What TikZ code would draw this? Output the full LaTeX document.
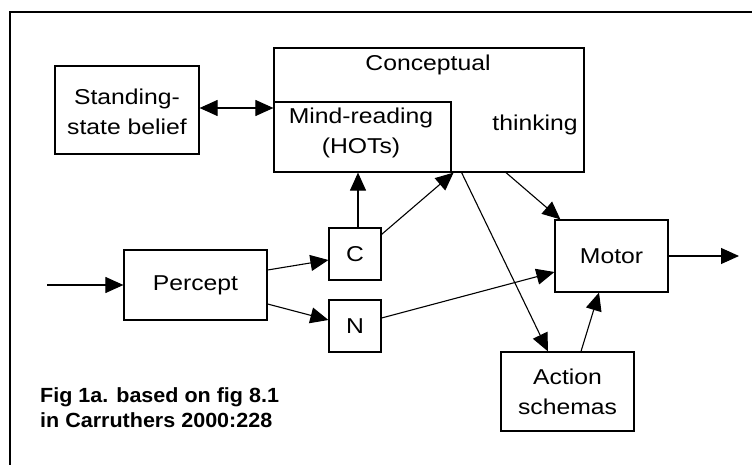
\documentclass[tikz,border=0pt]{standalone}
\usepackage{fontspec}
\setmainfont{Liberation Sans}[FakeStretch=1.15]
\newfontfamily\capfont{Liberation Sans}[FakeStretch=1.05]
\usetikzlibrary{arrows.meta,calc}
\begin{document}
\begin{tikzpicture}[x=1pt,y=-1pt,
  box/.style={draw,line width=1.2pt,inner sep=0pt,anchor=center},
  lbl/.style={inner sep=0pt,align=center,font=\fontsize{21.5}{30}\selectfont},
  conn/.style={line width=1.1pt,-{Triangle[length=18pt,width=16pt]}},
  every node/.style={font=\fontsize{21.5}{30}\selectfont}]
\useasboundingbox (0,0) rectangle (752,465);
\draw[line width=1.3pt] (10,465) -- (10,12) -- (752,12);
% boxes
\node[box,minimum width=144pt,minimum height=88pt] (sb) at (127,110) {};
\node[box,minimum width=310pt,minimum height=124pt] (concept) at (429,110) {};
\node[box,minimum width=177pt,minimum height=70pt] (mind) at (362.5,137) {};
\node[box,minimum width=52pt,minimum height=52pt] (C) at (355,254) {C};
\node[box,minimum width=52pt,minimum height=52pt] (N) at (355,326) {N};
\node[box,minimum width=143pt,minimum height=70pt] (percept) at (195.5,285) {Percept};
\node[box,minimum width=113pt,minimum height=72pt] (motor) at (611.5,256) {Motor};
\node[box,minimum width=133pt,minimum height=79pt] (action) at (567.5,391.5) {};
% texts
\node[lbl] (sbt) at (127,112) {Standing-\\state belief};
\node[lbl] (ct) at (428,65) {Conceptual};
\node[lbl] (tt) at (535,125) {thinking};
\node[lbl] (mt) at (361,133) {Mind-reading\\(HOTs)};
\node[lbl] (at) at (567.5,392) {Action\\schemas};
\node[inner sep=0pt,anchor=west,align=left,font=\capfont\bfseries\fontsize{20.5}{25}\selectfont] (cap) at (40,407.5) {Fig 1a. based on fig 8.1\\in Carruthers 2000:228};
% coordinates
\coordinate (inp) at (47,285);
\coordinate (outp) at (739,256);
% connectors
\draw[line width=1.1pt,{Triangle[length=18pt,width=16pt]}-{Triangle[length=18pt,width=16pt]}] ([yshift=2pt]sb.east) -- ([yshift=2pt]sb.east -| mind.west);
\draw[conn] (inp) -- (percept.west);
\draw[conn] ([yshift=15pt]percept.east) -- ([yshift=-6pt]C.west);
\draw[conn] ([yshift=-19pt]percept.east) -- ([yshift=6pt]N.west);
\draw[conn] ([xshift=3pt]C.north) -- ([xshift=3pt]C.north |- mind.south);
\draw[conn] ([yshift=-7pt]C.north east) -- ([xshift=2pt]mind.south east);
\draw[conn] ([xshift=10pt]mind.south east) -- ([xshift=-19.5pt]action.north);
\draw[conn] ([xshift=77pt]concept.south) -- ([xshift=6pt]motor.north west);
\draw[conn] ([yshift=8pt]N.east) -- ([yshift=-16pt]motor.west);
\draw[conn] ([xshift=13.5pt]action.north) -- ([xshift=-12.5pt]motor.south);
\draw[conn] (motor.east) -- (outp);
\end{tikzpicture}
\end{document}
